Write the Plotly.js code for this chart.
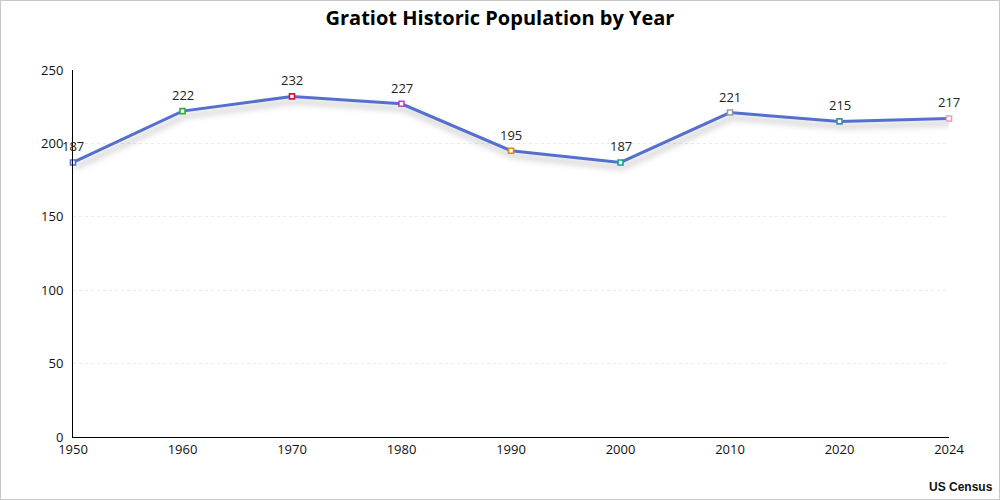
<!DOCTYPE html>
<html>
<head>
<meta charset="utf-8">
<script src="https://cdn.plot.ly/plotly-3.0.1.min.js"></script>
<style>
  html, body { margin: 0; padding: 0; background: #fff; }
  #wrap { position: relative; width: 1000px; height: 500px; }
  #chart { width: 1000px; height: 500px; }
  #frame { position: absolute; left: 0; top: 0; width: 998px; height: 498px; border: 1px solid #c8c8c8; pointer-events: none; }
  .scatterlayer .trace .lines path { filter: drop-shadow(2px 5px 3px rgba(0,0,0,0.28)); }
</style>
</head>
<body>
<div id="wrap"><div id="chart"></div><div id="frame"></div></div>
<script>
const years = ["1950", "1960", "1970", "1980", "1990", "2000", "2010", "2020", "2024"];
const population = [187, 222, 232, 227, 195, 187, 221, 215, 217];
const pointColors = ["#4f6fd6", "#2fae2f", "#d8143c", "#b245c4", "#e48a0c", "#15a08e", "#9a9a9a", "#3f8fa8", "#e9a3b3"];
const yTicks = [0, 50, 100, 150, 200, 250];

const trace = {
  x: years,
  y: population,
  type: "scatter",
  mode: "lines+markers",
  line: { color: "#5470cf", width: 3 },
  marker: { symbol: "square", size: 5, color: "#ffffff", line: { color: pointColors, width: 1.6 } },
  cliponaxis: false,
  hoverinfo: "x+y"
};

// category axis: annotation positions use the category index
const valueLabels = years.map((yr, i) => ({
  x: i, y: population[i], xref: "x", yref: "y",
  text: String(population[i]),
  showarrow: false,
  yanchor: "bottom",
  yshift: 5,
  font: { family: "Open Sans, Noto Sans, sans-serif", size: 13, color: "#222" }
}));

const layout = {
  width: 1000,
  height: 500,
  margin: { l: 73, r: 51, t: 70, b: 63 },
  paper_bgcolor: "#ffffff",
  plot_bgcolor: "#ffffff",
  showlegend: false,
  font: { family: "Open Sans, Noto Sans, sans-serif", size: 13, color: "#111" },
  title: {
    text: "<b>Gratiot Historic Population by Year</b>",
    x: 0.5, xanchor: "center", y: 0.965, yanchor: "middle",
    font: { family: "Open Sans, Noto Sans, sans-serif", size: 20, color: "#000" }
  },
  xaxis: {
    type: "category",
    range: [0, years.length - 1],
    showgrid: false,
    showline: true,
    linecolor: "#000",
    linewidth: 1,
    ticks: "",
    tickfont: { size: 13, color: "#111" },
    zeroline: false,
    fixedrange: true
  },
  yaxis: {
    range: [0, 250],
    tickvals: yTicks,
    showgrid: true,
    gridcolor: "#ebebeb",
    griddash: "dot",
    showline: true,
    linecolor: "#000",
    linewidth: 1,
    ticks: "",
    ticklabelstandoff: 6,
    tickfont: { size: 13, color: "#111" },
    zeroline: false,
    fixedrange: true
  },
  annotations: valueLabels.concat([{
    text: "<b>US Census</b>",
    xref: "paper", yref: "paper",
    x: 1.052, y: -0.135,
    xanchor: "right", yanchor: "middle",
    showarrow: false,
    font: { family: "Liberation Sans, Arial, sans-serif", size: 12, color: "#111" }
  }])
};

Plotly.newPlot("chart", [trace], layout, { displayModeBar: false, staticPlot: true });
</script>
</body>
</html>
